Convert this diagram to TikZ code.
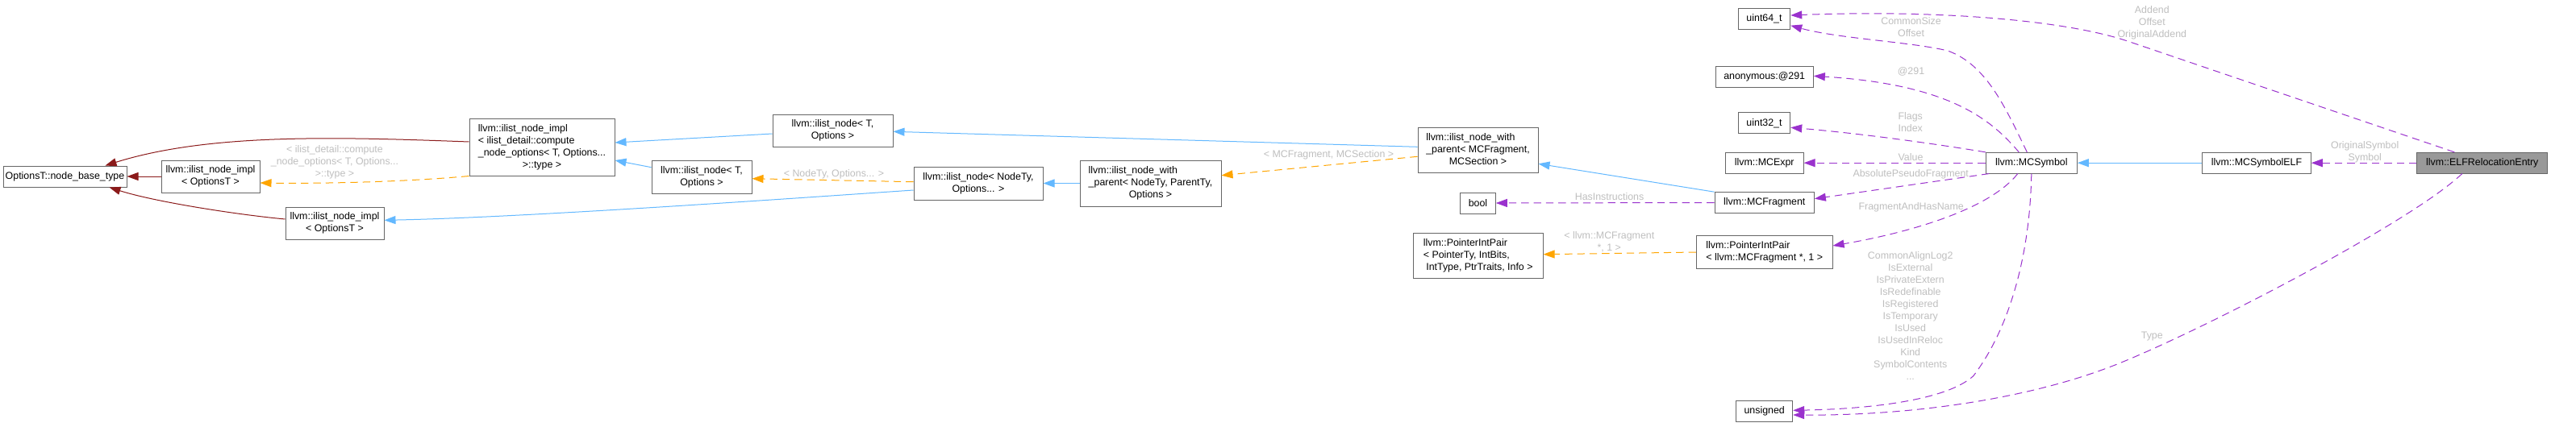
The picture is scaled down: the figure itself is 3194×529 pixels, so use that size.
\documentclass[tikz,border=0pt]{standalone}
\usepackage{fontspec}
\setmainfont{Liberation Sans}
\usetikzlibrary{arrows.meta,calc}

\definecolor{boxline}{HTML}{666666}
\definecolor{focusfill}{HTML}{999999}
\definecolor{edgetext}{HTML}{BEBEBE}
\definecolor{pubblue}{HTML}{63B8FF}
\definecolor{tplorange}{HTML}{FFA500}
\definecolor{usepurple}{HTML}{9A32CD}
\definecolor{basered}{HTML}{8B1A1A}

\newcommand{\dlines}[2]{\begin{tabular}{@{}l@{}}#1\\\multicolumn{1}{@{}c@{}}{#2}\end{tabular}}

\begin{document}
\begin{tikzpicture}[
  x=0.75pt, y=-0.75pt,
  cls/.style 2 args={draw=boxline, line width=0.75pt, fill=white, inner sep=0pt, align=center, minimum width=#1*0.75pt, minimum height=#2*0.75pt, font=\fontsize{9.3}{11.25}\selectfont},
  focus/.style={fill=focusfill},
  lbl/.style={text=edgetext, align=center, inner sep=0pt, font=\fontsize{9.3}{11.25}\selectfont},
  arrowtip/.style={-{Triangle[length=10.5pt,width=7.5pt]}, line width=0.75pt},
  pub/.style={arrowtip, color=pubblue},
  basearr/.style={arrowtip, color=basered},
  tpl/.style={arrowtip, color=tplorange, dash pattern=on 7pt off 4.5pt},
  usage/.style={arrowtip, color=usepurple, dash pattern=on 7pt off 4.5pt}
]
\useasboundingbox (0,0) rectangle (3194,529);

\node[cls={153}{26}] (nbt) at (80.5,219) {OptionsT::node\_base\_type};
\node[cls={122}{40}] (implA) at (261,219) {\dlines{llvm::ilist\_node\_impl}{< OptionsT >}};
\node[cls={122}{40}] (implB) at (415,277) {\dlines{llvm::ilist\_node\_impl}{< OptionsT >}};
\node[cls={180}{71}] (implC) at (672,182.5) {\dlines{llvm::ilist\_node\_impl\\< ilist\_detail::compute\\\_node\_options< T, Options...}{>::type >}};
\node[cls={149}{40}] (nodeA) at (1032.5,162.3) {\dlines{llvm::ilist\_node< T,}{Options >}};
\node[cls={124}{41}] (nodeB) at (870,219.5) {\dlines{llvm::ilist\_node< T,}{Options >}};
\node[cls={160}{41}] (nodeC) at (1213,227.5) {\dlines{llvm::ilist\_node< NodeTy,}{Options... >}};
\node[cls={175}{57}] (nwpA) at (1426.5,227.5) {\dlines{llvm::ilist\_node\_with\\\_parent< NodeTy, ParentTy,}{Options >}};
\node[cls={149}{56}] (nwpB) at (1832.5,186) {\dlines{llvm::ilist\_node\_with\\\_parent< MCFragment,}{MCSection >}};
\node[cls={43.6}{26}] (bool) at (1832.5,252) {bool};
\node[cls={160.7}{56}] (pipA) at (1832.7,317) {\dlines{llvm::PointerIntPair\\< PointerTy, IntBits,}{\ IntType, PtrTraits, Info >}};
\node[cls={64.4}{25.6}] (uint64) at (2187.5,23.5) {uint64\_t};
\node[cls={121.3}{25.6}] (anon) at (2187.7,95.5) {anonymous:@291};
\node[cls={64.4}{25.7}] (uint32) at (2187.5,152.8) {uint32\_t};
\node[cls={96.7}{25.7}] (mcexpr) at (2187.7,202.2) {llvm::MCExpr};
\node[cls={123.3}{25.6}] (mcfrag) at (2187.7,251.5) {llvm::MCFragment};
\node[cls={168.7}{40.6}] (pipB) at (2187.7,313) {\dlines{llvm::PointerIntPair}{< llvm::MCFragment *, 1 >}};
\node[cls={70}{26}] (unsigned) at (2187.7,510.3) {unsigned};
\node[cls={113}{25.7}] (mcsym) at (2518.8,202.2) {llvm::MCSymbol};
\node[cls={134.6}{25.7}] (mcsymelf) at (2798,202.2) {llvm::MCSymbolELF};
\node[cls={161.7}{25.7}, focus] (elf) at (3077.8,202.2) {llvm::ELFRelocationEntry};

\draw[basearr] ($(implC.west)+(0,-6.5)$) .. controls (420,170) and (260,165) .. ($(nbt.north east)+(-27,0)$);
\draw[basearr] (implA.west) -- (nbt.east);
\draw[basearr] ($(implB.west)+(0,-5)$) .. controls (290,266) and (190,250) .. ($(nbt.south east)+(-22,0)$);
\draw[tpl] (implC.south west) .. controls (500,226) and (400,228) .. ($(implA.east)+(0,8)$);
\draw[pub] ($(nodeA.west)+(0,3.7)$) -- ($(implC.east)+(0,-5.5)$);
\draw[pub] ($(nodeB.west)+(0,-11.8)$) -- ($(implC.east)+(0,16.5)$);
\draw[tpl] ($(nodeC.west)+(0,-1.8)$) -- ($(nodeB.east)+(0,2.2)$);
\draw[pub] ($(nodeC.west)+(0,8.5)$) .. controls (1000,245) and (650,270) .. ($(implB.east)+(0,-3.7)$);
\draw[pub] (nwpA.west) -- (nodeC.east);
\draw[pub] ($(nwpB.west)+(0,-3.7)$) -- ($(nodeA.east)+(0,1)$);
\draw[tpl] ($(nwpB.west)+(0,8.3)$) -- ($(nwpA.east)+(0,-9.8)$);
\draw[pub] (mcfrag.north west) -- ($(nwpB.east)+(0,17.3)$);
\draw[usage] (mcfrag.west) -- (bool.east);
\draw[usage] ($(mcsym.north)+(-5.5,0)$) .. controls (2485,130) and (2462,80) .. (2415,63) .. controls (2370,52) and (2280,48) .. ($(uint64.east)+(0,8.2)$);
\draw[usage] ($(mcsym.north)+(-15.5,0)$) .. controls (2470,150) and (2420,105) .. ($(anon.east)+(0,-1.2)$);
\draw[usage] (mcsym.north west) .. controls (2390,177) and (2300,165) .. ($(uint32.east)+(0,5.5)$);
\draw[usage] (mcsym.west) -- (mcexpr.east);
\draw[usage] ($(mcsym.south west)+(4.4,0)$) -- ($(mcfrag.east)+(0,-4.8)$);
\draw[usage] ($(mcsym.south)+(-17,0)$) .. controls (2465,262) and (2360,290) .. ($(pipB.east)+(0,-8)$);
\draw[usage] (mcsym.south) .. controls (2517,320) and (2490,410) .. (2446.7,466.7) .. controls (2410,500) and (2300,508) .. ($(unsigned.east)+(0,-1)$);
\draw[tpl] (pipB.west) -- ($(pipA.east)+(0,-1.3)$);
\draw[pub] (mcsymelf.west) -- (mcsym.east);
\draw[usage] (elf.west) -- (mcsymelf.east);
\draw[usage] ($(elf.north)+(-34.5,0)$) -- (2640,51.7) .. controls (2560,24.4) and (2400,12) .. ($(uint64.east)+(0,-4.5)$);
\draw[usage] ($(elf.south)+(-25,0)$) .. controls (2990,275) and (2740,405) .. (2630,450) .. controls (2520,495) and (2370,516) .. ($(unsigned.east)+(0,4.7)$);

\node[lbl] (lCompute) at (415,201) {< ilist\_detail::compute\\\_node\_options< T, Options...\\>::type >};
\node[lbl] (lNodeTy) at (1034,216) {< NodeTy, Options... >};
\node[lbl] (lSection) at (1647.5,192.7) {< MCFragment, MCSection >};
\node[lbl] (lHasInst) at (1995.5,244.3) {HasInstructions};
\node[lbl] (lFragPtr) at (1995.3,300.5) {< llvm::MCFragment\\{}*, 1 >};
\node[lbl] (lCommon) at (2369.5,34) {CommonSize\\Offset};
\node[lbl] (lAnon) at (2369.5,89.3) {@291};
\node[lbl] (lFlags) at (2368.7,151.8) {Flags\\Index};
\node[lbl] (lValue) at (2369,195) {Value};
\node[lbl] (lAbs) at (2369.2,216.7) {AbsolutePseudoFragment};
\node[lbl] (lFragName) at (2369.7,257.3) {FragmentAndHasName};
\node[lbl] (lBits) at (2368.7,392) {CommonAlignLog2\\IsExternal\\IsPrivateExtern\\IsRedefinable\\IsRegistered\\IsTemporary\\IsUsed\\IsUsedInReloc\\Kind\\SymbolContents\\...};
\node[lbl] (lSymbol) at (2932.2,188.3) {OriginalSymbol\\Symbol};
\node[lbl] (lAddend) at (2668.3,28.4) {Addend\\Offset\\OriginalAddend};
\node[lbl] (lType) at (2668.3,417.7) {Type};
\end{tikzpicture}
\end{document}
